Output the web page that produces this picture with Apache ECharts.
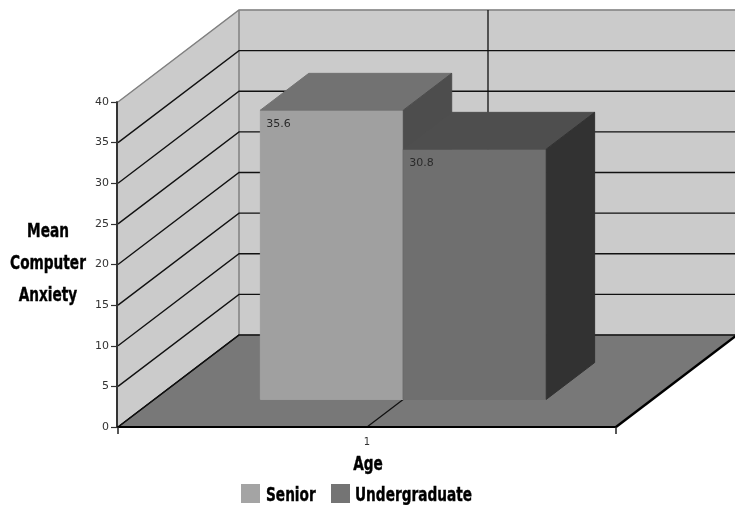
<!DOCTYPE html>
<html>
<head>
<meta charset="utf-8">
<style>html,body{margin:0;padding:0;background:#fff}#chart{width:735px;height:505px}</style>
<script src="https://cdn.jsdelivr.net/npm/echarts@6/dist/echarts.min.js"></script>
</head>
<body>
<div id="chart"></div>
<script>
// Mean computer anxiety by age group
const categories = ['1'];
const senior = [35.6];
const undergraduate = [30.8];
const valueTicks = [0, 5, 10, 15, 20, 25, 30, 35, 40];
const yAxisTitleLines = ['Mean', 'Computer', 'Anxiety'];
const xAxisTitle = 'Age';
const seriesNames = ['Senior', 'Undergraduate'];

// Oblique projection of the chart box
const DEPTH_X = 121, DEPTH_Y = -92;
const BAR_DEPTH_START = 0.3, BAR_DEPTH = 0.4, BAR_WIDTH_SHARE = 0.287;
const TICK_FONT = '"DejaVu Sans", Verdana, sans-serif';
const TITLE_FONT = 'bold 20px "DejaVu Sans Condensed", "DejaVu Sans", sans-serif';
const TITLE_SQUEEZE = 0.76;

const shift = (p, d) => [p[0] + DEPTH_X * d, p[1] + DEPTH_Y * d];
const poly = (points, fill, stroke, width, z2) => ({
  type: 'polygon', z2: z2 || 0, shape: { points },
  style: { fill, stroke: stroke || fill, lineWidth: width || 1 }
});
const line = (points, stroke, width, z2) => ({
  type: 'polyline', z2: z2 || 1, shape: { points },
  style: { fill: 'none', stroke, lineWidth: width }
});

// Left and right ends of the category band at a given value
function bandEnds(api, value) {
  const c = api.coord([0, value]), w = api.size([1, 0])[0];
  return [[c[0] - w / 2, c[1]], [c[0] + w / 2, c[1]]];
}

// Walls and floor, drawn once behind the gridlines
function renderBox(params, api) {
  const [o, r] = bandEnds(api, 0);
  const [t, rt] = bandEnds(api, valueTicks[valueTicks.length - 1]);
  return { type: 'group', children: [
    poly([o, t, shift(t, 1), shift(o, 1)], '#cbcbcb'),
    poly([shift(o, 1), shift(t, 1), shift(rt, 1), shift(r, 1)], '#cbcbcb'),
    poly([o, r, shift(r, 1), shift(o, 1)], '#787878'),
    line([t, shift(t, 1), shift(rt, 1)], '#808080', 1.5, 2),
    line([shift(t, 1), shift(o, 1)], '#808080', 1.5, 2),
    line([o, shift(o, 1)], '#000', 1.2, 3),
    line([r, shift(r, 1)], '#000', 2.5, 3)
  ] };
}

// One gridline per tick, bent around the corner of the walls
function renderGridline(params, api) {
  const v = api.value(0);
  const [a, b] = bandEnds(api, v);
  if (v === valueTicks[valueTicks.length - 1]) return null;
  return line([a, shift(a, 1), shift(b, 1)], '#111', 1.4);
}

// Category line running across the floor and up the back wall
function renderCategoryLine(params, api) {
  const c = api.coord([api.value(0), 0]);
  const top = api.coord([api.value(0), valueTicks[valueTicks.length - 1]]);
  return line([c, shift(c, 1), shift(top, 1)], '#111', 1.3);
}

// A bar as three visible faces; `slot` puts it left or right of the category centre
function barRenderer(slot, front, topFace, side) {
  return function (params, api) {
    const idx = api.value(0), val = api.value(1);
    const w = api.size([1, 0])[0] * BAR_WIDTH_SHARE;
    const base = shift(api.coord([idx, 0]), BAR_DEPTH_START);
    const head = shift(api.coord([idx, val]), BAR_DEPTH_START);
    const x0 = base[0] + slot * w, x1 = x0 + w;
    const bl = [x0, base[1]], br = [x1, base[1]], tl = [x0, head[1]], tr = [x1, head[1]];
    return { type: 'group', children: [
      poly([bl, tl, tr, br], front),
      poly([tl, tr, shift(tr, BAR_DEPTH), shift(tl, BAR_DEPTH)], topFace),
      poly([br, tr, shift(tr, BAR_DEPTH), shift(br, BAR_DEPTH)], side),
      { type: 'text', z2: 4, x: x0 + 6, y: head[1] + 8,
        style: { text: val.toFixed(1), fill: '#2a2a2a', font: '11px ' + TICK_FONT } }
    ] };
  };
}

// Heavy condensed titles: bold text squeezed horizontally, y is the text's middle
function title(text, x, y, align) {
  return { type: 'text', x, y, scaleX: TITLE_SQUEEZE, z: 20, silent: true,
    style: { text, font: TITLE_FONT, fill: '#000', stroke: '#000', lineWidth: 0.4,
             textAlign: align || 'center', verticalAlign: 'middle' } };
}
const swatch = (x, fill) => ({ type: 'rect', z: 20, silent: true,
  shape: { x, y: 484, width: 19, height: 19 }, style: { fill } });

const chart = echarts.init(document.getElementById('chart'), null, { renderer: 'canvas' });
chart.setOption({
  animation: false,
  backgroundColor: '#fff',
  grid: { left: 118, right: 119, top: 102, bottom: 78, outerBoundsMode: 'none' },
  xAxis: {
    type: 'category', data: categories, z: 10,
    axisLine: { lineStyle: { color: '#000', width: 2 } },
    axisTick: { show: true, length: 7, lineStyle: { color: '#222', width: 1.5 } },
    axisLabel: { fontFamily: TICK_FONT, fontSize: 10, color: '#333', margin: 10 },
    splitLine: { show: false }
  },
  yAxis: {
    type: 'value', min: 0, max: valueTicks[valueTicks.length - 1], interval: 5, z: 10, offset: 1,
    axisLine: { show: true, lineStyle: { color: '#333', width: 2 } },
    axisTick: { show: true, length: 6, lineStyle: { color: '#333', width: 1.2 } },
    axisLabel: { fontFamily: TICK_FONT, fontSize: 11, color: '#333', margin: 8 },
    splitLine: { show: false }
  },
  graphic: [
    title(yAxisTitleLines[0], 48, 232),
    title(yAxisTitleLines[1], 48, 264),
    title(yAxisTitleLines[2], 48, 296),
    title(xAxisTitle, 368, 465),
    swatch(241, '#a4a4a4'),
    title(seriesNames[0], 266, 496, 'left'),
    swatch(331, '#747474'),
    title(seriesNames[1], 355, 496, 'left')
  ],
  series: [
    { type: 'custom', z: 1, silent: true, renderItem: renderBox, data: [[0]], encode: { x: 0 } },
    { type: 'custom', z: 2, silent: true, renderItem: renderGridline, data: valueTicks.map(v => [v]), encode: { y: 0 } },
    { type: 'custom', z: 2, silent: true, renderItem: renderCategoryLine, data: categories.map((c, i) => [i]), encode: { x: 0 } },
    { type: 'custom', name: seriesNames[0], z: 3, silent: true,
      renderItem: barRenderer(-1, '#a0a0a0', '#727272', '#4d4d4d'),
      data: senior.map((v, i) => [i, v]), encode: { x: 0, y: 1 } },
    { type: 'custom', name: seriesNames[1], z: 4, silent: true,
      renderItem: barRenderer(0, '#6f6f6f', '#4e4e4e', '#323232'),
      data: undergraduate.map((v, i) => [i, v]), encode: { x: 0, y: 1 } }
  ]
});
</script>
</body>
</html>
